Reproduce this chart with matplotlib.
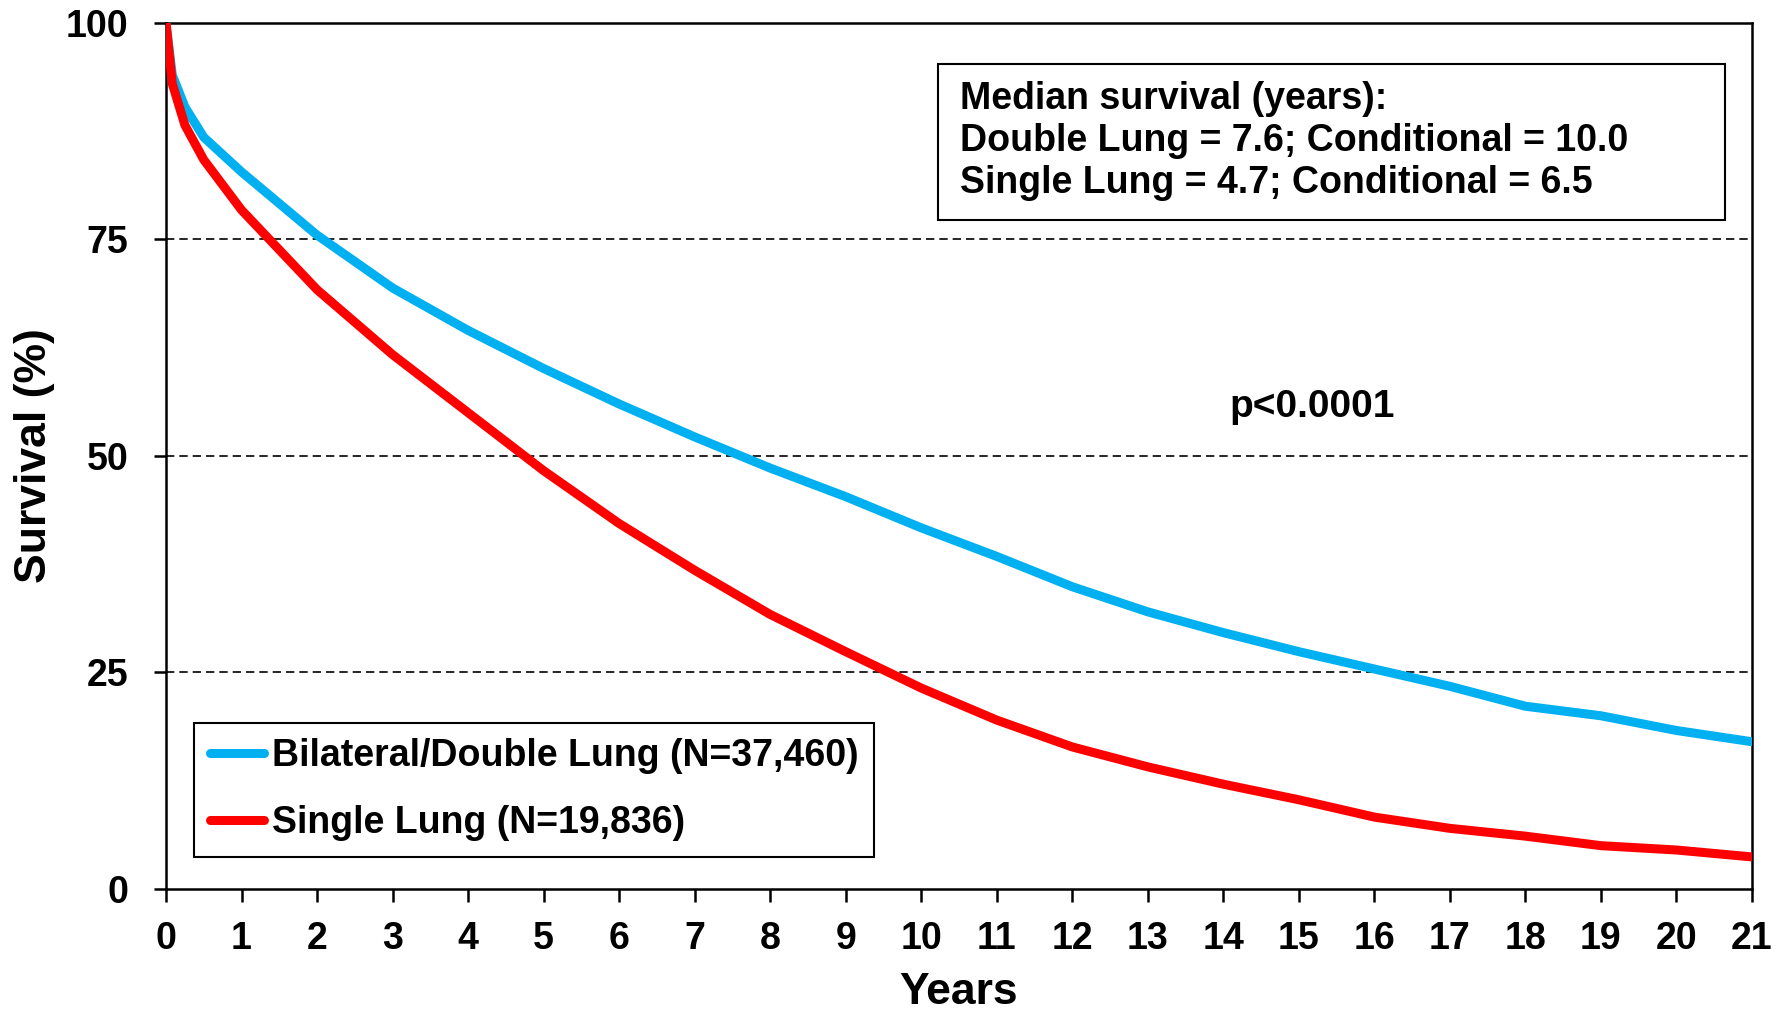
import matplotlib
matplotlib.use("Agg")
import matplotlib.pyplot as plt
from matplotlib.patches import Rectangle

plt.rcParams['font.family'] = ['Liberation Sans', 'DejaVu Sans']
plt.rcParams['font.weight'] = 'bold'

# survival data
years = [0, 0.083, 0.25, 0.5, 1, 2, 3, 4, 5, 6, 7, 8, 9, 10,
         11, 12, 13, 14, 15, 16, 17, 18, 19, 20, 21]
double_lung = [100, 94.0, 90.3, 86.8, 82.8, 75.5, 69.4, 64.5, 60.1, 56.0, 52.2, 48.6, 45.3, 41.7,
               38.4, 34.9, 32.0, 29.6, 27.4, 25.4, 23.4, 21.1, 20.0, 18.3, 17.0]
single_lung = [100, 93.0, 88.2, 84.2, 78.4, 69.2, 61.7, 55.0, 48.3, 42.2, 36.8, 31.7, 27.4, 23.2,
               19.5, 16.4, 14.1, 12.1, 10.3, 8.3, 7.0, 6.1, 5.0, 4.5, 3.7]

labels = ['Bilateral/Double Lung (N=37,460)', 'Single Lung (N=19,836)']
colors = ['#00B0F0', '#FF0000']
x_ticks = list(range(0, 22))
y_ticks = [0, 25, 50, 75, 100]
grid_levels = [25, 50, 75]

note_text = ('Median survival (years):\n'
             'Double Lung = 7.6; Conditional = 10.0\n'
             'Single Lung = 4.7; Conditional = 6.5')

fig = plt.figure(figsize=(17.87, 10.11), dpi=100)
ax = fig.add_axes([0.0929, 0.1207, 0.8875, 0.8566])

for g in grid_levels:
    ax.axhline(g, color='black', linewidth=1.2, linestyle=(0, (5, 3)), zorder=1)

for ys, lab, col in zip([double_lung, single_lung], labels, colors):
    ax.plot(years, ys, color=col, linewidth=6.5, label=lab,
            solid_joinstyle='round', solid_capstyle='round', zorder=3)

ax.set_xlim(0, 21)
ax.set_ylim(0, 100)
ax.set_xticks(x_ticks)
ax.set_yticks(y_ticks)
ax.tick_params(axis='x', direction='out', length=9, width=1.8, pad=14, labelsize=27)
ax.tick_params(axis='y', direction='out', length=9, width=1.8, pad=18, labelsize=27)
for s in ax.spines.values():
    s.set_linewidth(1.8)

ax.set_xlabel('Years', fontsize=32, fontweight='bold', labelpad=11)
ax.set_ylabel('Survival (%)', fontsize=32, fontweight='bold')
ax.yaxis.set_label_coords(-0.070, 0.5)

leg = ax.legend(loc='lower left', bbox_to_anchor=(0.0177, 0.037), borderaxespad=0,
                fontsize=27, handlelength=1.45, handletextpad=0.2, borderpad=0.42,
                labelspacing=0.82, fancybox=False, framealpha=1, edgecolor='black')
leg.get_frame().set_linewidth(1.5)
for t in leg.get_texts():
    t.set_fontweight('bold')

# median survival box
ax.add_patch(Rectangle((0.4868, 0.7725), 0.4962, 0.1802, transform=ax.transAxes,
                       facecolor='white', edgecolor='black', linewidth=1.5, zorder=4))
ax.text(0.5006, 0.8637, note_text, transform=ax.transAxes, fontsize=27, fontweight='bold',
        va='center', ha='left', linespacing=1.23, zorder=5)

ax.text(15.17, 55.7, 'p<0.0001', fontsize=28, fontweight='bold', ha='center', va='center')

fig.savefig('out.png', dpi=100)
